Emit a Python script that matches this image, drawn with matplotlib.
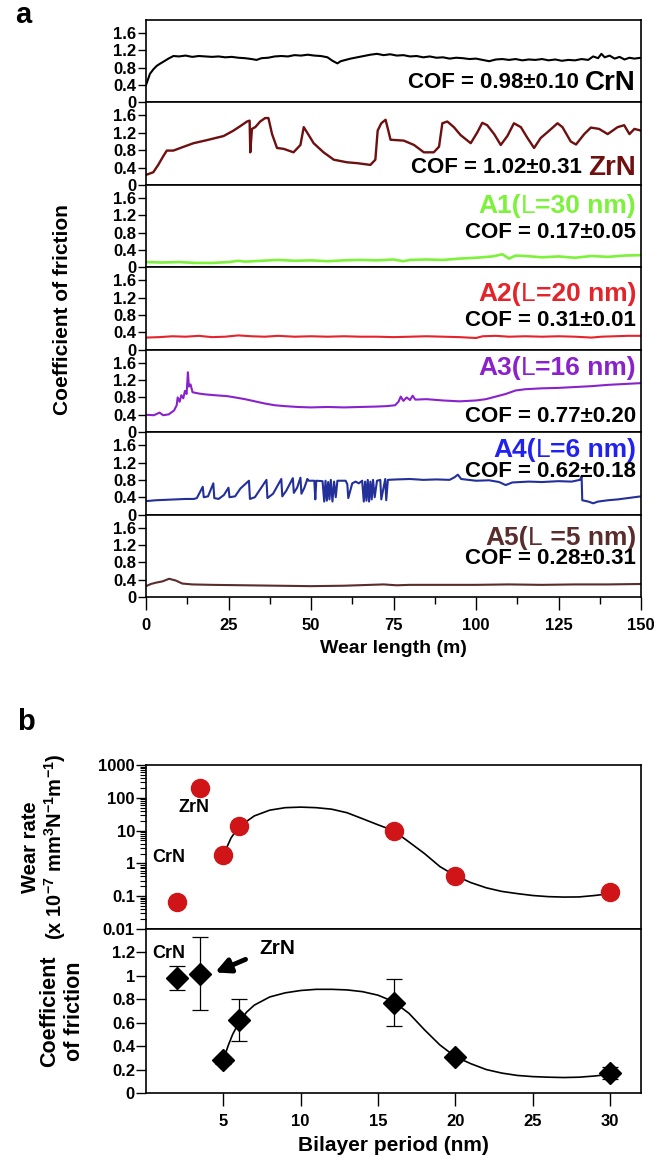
import matplotlib
matplotlib.use("Agg")
import matplotlib.pyplot as plt
from matplotlib.ticker import MultipleLocator, LogLocator, NullFormatter, FixedLocator

plt.rcParams['font.family'] = ['Liberation Sans', 'DejaVu Sans']
plt.rcParams['font.weight'] = 'bold'
plt.rcParams['axes.labelweight'] = 'bold'
plt.rcParams['mathtext.fontset'] = 'custom'
plt.rcParams['mathtext.bf'] = 'Liberation Sans:bold'
plt.rcParams['mathtext.rm'] = 'Liberation Sans:bold'
plt.rcParams['mathtext.default'] = 'bf'

# ---- panel a: friction traces (wear length in m, COF) ----
crn_x = [0, 0.7, 1.2, 2.2, 3.2, 4.2, 5.3, 6.8, 8.3, 10, 12, 14, 16, 18, 20, 22, 24, 26, 28, 30, 32, 33.5, 35, 37,
         39, 41, 43, 45, 47, 49, 51, 53, 55, 56.5, 58, 59, 60.5, 62, 64, 66, 68, 70, 72, 74, 76, 78, 80, 82, 84, 86,
         88, 90, 92, 94, 96, 98, 100, 102, 104, 106, 108, 110, 112, 114, 116, 118, 120, 122, 124, 126, 128, 130,
         132, 134, 135.5, 137, 138, 139, 140.5, 142, 143.5, 145, 146.5, 148, 150]
crn_y = [0.40, 0.55, 0.66, 0.76, 0.84, 0.89, 0.94, 1.01, 1.07, 1.06, 1.08, 1.05, 1.07, 1.06, 1.05, 1.06, 1.04, 1.05,
         1.03, 1.02, 1.00, 0.98, 1.02, 1.03, 1.06, 1.07, 1.06, 1.09, 1.08, 1.10, 1.08, 1.07, 1.04, 0.96, 0.90, 0.95,
         0.98, 1.01, 1.04, 1.07, 1.10, 1.12, 1.09, 1.11, 1.08, 1.09, 1.06, 1.07, 1.04, 1.06, 1.03, 1.04, 1.01, 1.03,
         1.02, 1.00, 1.01, 0.98, 0.95, 0.99, 1.00, 0.98, 1.00, 0.97, 0.99, 0.98, 1.00, 0.97, 0.99, 0.96, 0.98, 0.97,
         1.00, 0.98, 1.06, 1.02, 1.12, 1.04, 1.08, 1.01, 1.05, 0.99, 1.03, 1.01, 1.03]

zrn_x = [0, 2.2, 3.7, 5.3, 6.3, 8.3, 11.3, 14.4, 18.4, 23.5, 26.5, 28.5, 30.6, 31.4, 31.6, 32.1, 33.1, 34.6, 36.1,
         37.1, 38.2, 39.7, 41.7, 44.7, 46.8, 47.8, 48.8, 50.8, 53.8, 56.9, 60.9, 64, 68, 69.5, 70.2, 71.3, 72.6,
         73.3, 74.1, 78.1, 81.2, 84.2, 87.2, 88.8, 89.8, 91.3, 93.3, 95.3, 98.4, 100.4, 101.9, 103.4, 105.5, 107.5,
         109.5, 111.5, 113.6, 115.6, 117.6, 119.6, 122.2, 124.7, 126.2, 128.7, 130.3, 132.8, 134.8, 137.3, 139.9,
         142.9, 144.9, 146.5, 148, 150]
zrn_y = [0.23, 0.29, 0.46, 0.67, 0.79, 0.79, 0.875, 0.96, 1.03, 1.125, 1.25, 1.35, 1.46, 1.48, 0.75, 1.29, 1.33,
         1.46, 1.54, 1.54, 1.17, 0.85, 0.83, 0.75, 0.92, 1.33, 1.21, 0.96, 0.75, 0.58, 0.52, 0.50, 0.46, 0.58, 1.25,
         1.42, 1.50, 1.29, 1.04, 1.02, 0.92, 0.75, 0.75, 0.88, 1.42, 1.46, 1.33, 1.15, 0.96, 1.21, 1.43, 1.375,
         1.17, 0.92, 1.125, 1.42, 1.33, 1.08, 0.85, 1.08, 1.25, 1.42, 1.33, 1.00, 0.93, 1.17, 1.32, 1.29, 1.17,
         1.33, 1.375, 1.17, 1.29, 1.25]

a1_x = [0, 5, 10, 15, 20, 25, 28, 30, 35, 40, 45, 50, 55, 60, 65, 70, 75, 78, 80, 85, 90, 95, 100, 105, 108, 110,
        112, 115, 120, 125, 130, 135, 140, 145, 150]
a1_y = [0.12, 0.11, 0.12, 0.10, 0.10, 0.12, 0.15, 0.13, 0.15, 0.17, 0.15, 0.16, 0.14, 0.16, 0.17, 0.16, 0.18,
        0.14, 0.17, 0.18, 0.17, 0.20, 0.22, 0.25, 0.30, 0.20, 0.27, 0.26, 0.23, 0.25, 0.22, 0.26, 0.24, 0.27, 0.28]

a2_x = [0, 4, 8, 12, 16, 20, 24, 28, 32, 36, 40, 45, 50, 55, 60, 65, 70, 75, 80, 85, 90, 95, 100, 102, 106, 110,
        115, 120, 125, 130, 135, 138, 142, 146, 150]
a2_y = [0.28, 0.29, 0.31, 0.30, 0.32, 0.29, 0.30, 0.33, 0.31, 0.30, 0.32, 0.30, 0.31, 0.30, 0.31, 0.30, 0.30,
        0.29, 0.30, 0.31, 0.30, 0.29, 0.27, 0.31, 0.32, 0.30, 0.31, 0.30, 0.31, 0.30, 0.28, 0.30, 0.31, 0.32, 0.32]

a3_x = [0, 2.4, 4.1, 5.2, 6.9, 8.5, 9.3, 9.6, 10.2, 10.7, 11.3, 11.8, 12.3, 12.7, 13, 13.5, 14.1, 16, 18, 21, 24.6,
        27, 30, 33, 36, 39, 42, 46, 50, 55, 60, 65, 70, 73, 75.5, 76.5, 77.2, 78, 79, 80, 80.8, 81.6, 85, 90, 95,
        100, 103, 106, 109, 112, 115, 120, 125, 130, 135, 140, 145, 150]
a3_y = [0.40, 0.39, 0.45, 0.39, 0.41, 0.50, 0.62, 0.80, 0.70, 0.85, 0.78, 0.95, 0.88, 1.38, 1.05, 1.10, 0.92, 0.89,
        0.87, 0.85, 0.83, 0.80, 0.76, 0.71, 0.66, 0.62, 0.60, 0.58, 0.57, 0.58, 0.57, 0.58, 0.59, 0.60, 0.62, 0.70,
        0.82, 0.72, 0.80, 0.74, 0.84, 0.75, 0.76, 0.73, 0.71, 0.73, 0.76, 0.82, 0.88, 0.96, 0.99, 1.01, 1.02, 1.04,
        1.06, 1.09, 1.11, 1.13]

a4_x = [0, 3, 6, 9, 12, 14.5, 15.4, 17.2, 17.5, 18.8, 20.4, 20.7, 22, 23.6, 25, 25.3, 27, 28.6, 31.2, 31.5, 33,
        36.5, 36.8, 38.5, 41, 41.3, 42.5, 44.5, 44.8, 45.8, 46.8, 47.1, 48, 48.9, 49.3, 51, 51.3, 51.6, 53.5, 54,
        54.4, 54.8, 55.2, 55.6, 56, 56.5, 57, 57.5, 58, 60.5, 61, 61.3, 62.5, 63.5, 64.5, 65.5, 66, 66.4, 66.8,
        67.2, 67.6, 68, 68.4, 68.8, 69.3, 70, 71, 71.3, 72.5, 72.8, 73.3, 76, 80, 84, 88, 92, 93.5, 94.5, 95.5,
        100, 104, 107, 109, 111, 116, 120, 125, 129, 131.5, 132, 132.2, 134, 135.5, 137, 140, 143, 146, 150]
a4_y = [0.31, 0.33, 0.34, 0.35, 0.36, 0.36, 0.38, 0.64, 0.40, 0.42, 0.72, 0.38, 0.36, 0.45, 0.62, 0.40, 0.42,
        0.60, 0.78, 0.36, 0.40, 0.80, 0.38, 0.48, 0.82, 0.42, 0.55, 0.84, 0.50, 0.62, 0.85, 0.48, 0.62, 0.82, 0.78,
        0.78, 0.35, 0.78, 0.77, 0.30, 0.78, 0.32, 0.75, 0.35, 0.80, 0.30, 0.76, 0.40, 0.78, 0.78, 0.70, 0.38, 0.72,
        0.76, 0.72, 0.78, 0.30, 0.76, 0.32, 0.80, 0.30, 0.76, 0.35, 0.80, 0.40, 0.78, 0.80, 0.35, 0.82, 0.33, 0.80,
        0.81, 0.82, 0.80, 0.81, 0.80, 0.86, 0.92, 0.82, 0.78, 0.79, 0.75, 0.68, 0.74, 0.76, 0.75, 0.77, 0.76, 0.80,
        0.88, 0.33, 0.30, 0.26, 0.30, 0.33, 0.35, 0.38, 0.42]

a5_x = [0, 1.5, 3, 5, 7, 9, 11, 14, 20, 30, 40, 50, 60, 68, 72, 76, 80, 90, 100, 110, 120, 130, 140, 150]
a5_y = [0.25, 0.30, 0.33, 0.36, 0.42, 0.38, 0.31, 0.29, 0.28, 0.27, 0.26, 0.25, 0.26, 0.28, 0.29, 0.27, 0.28,
        0.28, 0.28, 0.29, 0.28, 0.29, 0.29, 0.30]

cof_text = ["COF = 0.98\u00b10.10", "COF = 1.02\u00b10.31", "COF = 0.17\u00b10.05", "COF = 0.31\u00b10.01",
            "COF = 0.77\u00b10.20", "COF = 0.62\u00b10.18", "COF = 0.28\u00b10.31"]
sample_names = ["CrN", "ZrN", "A1(", "A2(", "A3(", "A4(", "A5("]
period_text = ["", "", "=30 nm)", "=20 nm)", "=16 nm)", "=6 nm)", " =5 nm)"]

# ---- panel b: bilayer period data ----
period = [2, 3.5, 5, 6, 16, 20, 30]
wear_rate = [0.065, 200, 1.8, 14, 9.4, 0.42, 0.13]
cof_mean = [0.98, 1.02, 0.28, 0.62, 0.77, 0.31, 0.17]
cof_err = [0.10, 0.31, 0.03, 0.18, 0.20, 0.01, 0.05]

wear_fit_x = [5, 5.5, 6, 7, 8, 9, 10, 11, 12, 13, 14, 15, 16, 17, 18, 19, 20, 21, 22, 23, 24, 25, 26, 27, 28, 29, 30]
wear_fit_y = [1.8, 6, 13, 28, 42, 50, 52, 50, 45, 35, 23, 15, 10, 4.5, 2.0, 0.8, 0.42, 0.26, 0.18, 0.14, 0.12,
              0.105, 0.097, 0.094, 0.095, 0.105, 0.12]
cof_fit_x = [5, 5.3, 5.6, 6, 6.5, 7, 8, 9, 10, 11, 12, 13, 14, 15, 16, 17, 18, 19, 20, 21, 22, 23, 24, 25, 26, 27,
             28, 29, 30]
cof_fit_y = [0.28, 0.40, 0.50, 0.60, 0.69, 0.75, 0.82, 0.855, 0.875, 0.885, 0.885, 0.88, 0.865, 0.835, 0.78, 0.68,
             0.54, 0.41, 0.31, 0.25, 0.20, 0.17, 0.15, 0.14, 0.135, 0.132, 0.135, 0.145, 0.16]

colors = ["black", "#6e0f10", "#7cf23a", "#e3242b", "#8a22cc", "#23309a", "#5a2c2c"]
label_colors = ["black", "#6e0f10", "#7cf23a", "#e3242b", "#8a22cc", "#2222ee", "#5a2c2c"]
traces = [(crn_x, crn_y), (zrn_x, zrn_y), (a1_x, a1_y), (a2_x, a2_y), (a3_x, a3_y), (a4_x, a4_y), (a5_x, a5_y)]

fig = plt.figure(figsize=(6.7, 11.65), dpi=100)
renderer = fig.canvas.get_renderer()


def right_text(ax, y, pieces):
    # pieces drawn right-to-left, each (text, color, size, weight)
    off = 0
    for s, c, size, w in reversed(pieces):
        t = ax.annotate(s, xy=(0.99, y), xycoords="axes fraction", xytext=(-off, 0),
                        textcoords="offset pixels", ha="right", va="center", color=c,
                        fontsize=size, fontweight=w)
        off += t.get_window_extent(renderer).width


W, H = 670.0, 1165.0
left, right = 146 / W, 641 / W
top_a, bot_a = 20, 597
ph = (bot_a - top_a) / 7.0
cof_pos = [0.24, 0.21, 0.42, 0.35, 0.19, 0.52, 0.47]
lab_pos = [None, None, 0.74, 0.68, 0.78, 0.78, 0.72]
lwidths = [1.5, 1.7, 1.9, 1.5, 1.5, 1.5, 1.5]

for i in range(7):
    y0 = top_a + (i + 1) * ph
    ax = fig.add_axes([left, 1 - y0 / H, right - left, ph / H])
    ax.plot(traces[i][0], traces[i][1], color=colors[i], lw=lwidths[i])
    ax.set_xlim(0, 150)
    ax.set_ylim(0, 1.9)
    ax.set_yticks([0, 0.4, 0.8, 1.2, 1.6])
    ax.set_yticklabels(["0", "0.4", "0.8", "1.2", "1.6"])
    ax.tick_params(axis="y", direction="out", length=6, width=1, labelsize=12, pad=1)
    for s in ax.spines.values():
        s.set_linewidth(1.2)
    if i < 6:
        ax.set_xticks([])
    else:
        ax.xaxis.set_major_locator(MultipleLocator(25))
        ax.xaxis.set_minor_locator(MultipleLocator(12.5))
        ax.tick_params(axis="x", which="major", direction="out", length=9, width=1, labelsize=12, pad=6)
        ax.tick_params(axis="x", which="minor", direction="out", length=5, width=1)
        ax.set_xlabel("Wear length (m)", fontsize=14, labelpad=5)
    if i < 2:
        right_text(ax, cof_pos[i], [(cof_text[i] + " ", "black", 16, "bold"),
                                     (sample_names[i], label_colors[i], 20, "bold")])
    else:
        right_text(ax, lab_pos[i], [(sample_names[i], label_colors[i], 19, "bold"),
                                     ("L", label_colors[i], 19, "normal"),
                                     (period_text[i], label_colors[i], 19, "bold")])
        right_text(ax, cof_pos[i], [(cof_text[i], "black", 16, "bold")])

fig.text(62 / W, 1 - 310 / H, "Coefficient of friction", rotation=90, ha="center", va="center", fontsize=15)
fig.text(15 / W, 1 - 15 / H, "a", ha="left", va="center", fontsize=21)
fig.text(17 / W, 1 - 722 / H, "b", ha="left", va="center", fontsize=21)

# ---- panel b ----
axw = fig.add_axes([left, 1 - 929 / H, right - left, 164 / H])
axw.set_yscale("log")
axw.plot(wear_fit_x, wear_fit_y, color="black", lw=1.2, zorder=2)
axw.plot(period, wear_rate, "o", color="#cf1518", ms=13, mec="#cf1518", zorder=3)
axw.set_xlim(0, 32)
axw.set_ylim(0.01, 1000)
axw.set_xticks([])
axw.yaxis.set_major_locator(FixedLocator([0.01, 0.1, 1, 10, 100, 1000]))
axw.set_yticklabels(["0.01", "0.1", "1", "10", "100", "1000"])
axw.yaxis.set_minor_locator(LogLocator(base=10, subs=[2, 3, 4, 5, 6, 7, 8, 9], numticks=20))
axw.yaxis.set_minor_formatter(NullFormatter())
axw.tick_params(axis="y", which="major", direction="out", length=7, width=1, labelsize=12, pad=1)
axw.tick_params(axis="y", which="minor", direction="out", length=4, width=0.8)
axw.text(3.1, 49, "ZrN", ha="center", va="center", fontsize=13)
axw.text(1.5, 1.5, "CrN", ha="center", va="center", fontsize=13)
fig.text(31 / W, 1 - 847 / H, "Wear rate", rotation=90, ha="center", va="center", fontsize=14.5)
fig.text(55 / W, 1 - 847 / H, r"(x 10$^{-7}$ mm$^{3}$N$^{-1}$m$^{-1}$)", rotation=90, ha="center",
         va="center", fontsize=14.5)

axc = fig.add_axes([left, 1 - 1093 / H, right - left, 164 / H])
axc.plot(cof_fit_x, cof_fit_y, color="black", lw=1.2, zorder=2)
axc.errorbar(period, cof_mean, yerr=cof_err, fmt="D", color="black", ms=11, ecolor="black",
             elinewidth=0.9, capsize=6, capthick=0.9, zorder=3)
axc.set_xlim(0, 32)
axc.set_ylim(0, 1.4)
axc.set_yticks([0, 0.2, 0.4, 0.6, 0.8, 1.0, 1.2])
axc.set_yticklabels(["0", "0.2", "0.4", "0.6", "0.8", "1", "1.2"])
axc.set_xticks([5, 10, 15, 20, 25, 30])
axc.tick_params(axis="y", direction="out", length=7, width=1, labelsize=12, pad=1)
axc.tick_params(axis="x", direction="out", length=9, width=1, labelsize=12, pad=6)
axc.set_xlabel("Bilayer period (nm)", fontsize=15, labelpad=5)
axc.text(1.5, 1.19, "CrN", ha="center", va="center", fontsize=13)
axc.text(8.5, 1.23, "ZrN", ha="center", va="center", fontsize=15)
axc.annotate("", xy=(4.3, 1.02), xytext=(6.6, 1.15),
             arrowprops=dict(arrowstyle="-|>", lw=3.5, color="black", mutation_scale=22))
fig.text(50 / W, 1 - 1011 / H, "Coefficient", rotation=90, ha="center", va="center", fontsize=15.5)
fig.text(75 / W, 1 - 1011 / H, "of friction", rotation=90, ha="center", va="center", fontsize=15.5)
for a in (axw, axc):
    for s in a.spines.values():
        s.set_linewidth(1.2)

fig.savefig("out.png", dpi=100)
